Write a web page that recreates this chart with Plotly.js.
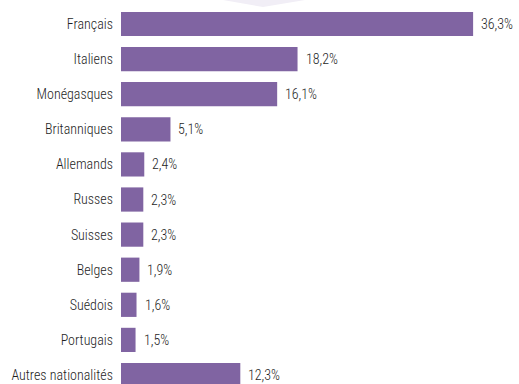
<!DOCTYPE html>
<html><head><meta charset="utf-8">
<script src="https://cdn.plot.ly/plotly-3.0.1.min.js"></script>
<style>html,body{margin:0;padding:0;background:#fff}#c{width:519px;height:384px}</style>
</head><body><div id="c"></div>
<script>
const categories = ["Français","Italiens","Monégasques","Britanniques","Allemands","Russes","Suisses","Belges","Suédois","Portugais","Autres nationalités"];
const values = [36.3,18.2,16.1,5.1,2.4,2.3,2.3,1.9,1.6,1.5,12.3];
const labels = values.map(v => v.toFixed(1).replace('.', ',') + '%');

const font = {family: '"Liberation Sans Narrow", "Roboto Condensed", "Liberation Sans", Arial, sans-serif', size: 14, color: '#1e1e1e', weight: 300};

const trace = {
  type: 'bar', orientation: 'h',
  x: values, y: categories,
  marker: {color: '#8064A2'},
  width: 0.69,
  hoverinfo: 'none'
};

const annotations = values.map((v, i) => ({
  x: v, y: categories[i], xref: 'x', yref: 'y',
  text: labels[i], showarrow: false, xanchor: 'left', yanchor: 'middle',
  xshift: 6, font: font
}));

const layout = {
  width: 519, height: 384,
  margin: {l: 121, r: 10, t: 0, b: 0, pad: 0},
  paper_bgcolor: '#ffffff', plot_bgcolor: '#ffffff',
  showlegend: false,
  font: font,
  xaxis: {range: [0, 40], showgrid: false, zeroline: false, showline: false, showticklabels: false, ticks: ''},
  yaxis: {type: 'category', categoryorder: 'array', categoryarray: categories,
          range: [10.256, -0.684], showgrid: false, zeroline: false, showline: false,
          ticks: '', ticklabelstandoff: 7, tickfont: font},
  annotations: annotations,
  shapes: [{type: 'path', xref: 'paper', yref: 'paper', layer: 'below',
            path: 'M ' + ((223-121)/388) + ' 1 L ' + ((305-121)/388) + ' 1 L ' + ((263-121)/388) + ' ' + (1-7/384) + ' Z',
            fillcolor: '#f1eef6', line: {width: 0}}]
};

Plotly.newPlot('c', [trace], layout, {displayModeBar: false, staticPlot: true});
</script></body></html>
